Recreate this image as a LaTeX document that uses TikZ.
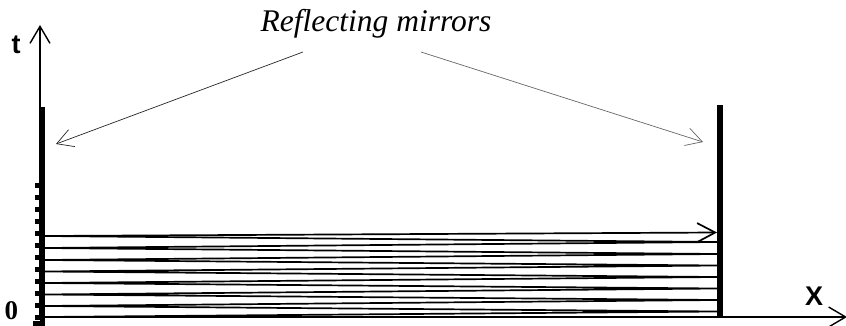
\documentclass[tikz,border=0pt]{standalone}
\usepackage{fontspec}
\setmainfont{Liberation Serif}
\setsansfont{Liberation Sans}
\usetikzlibrary{arrows.meta}
\begin{document}
\begin{tikzpicture}[x=1pt,y=-1pt,
  mirror/.style={fill=black,draw=none,inner sep=0pt,outer sep=0pt},
  tickbox/.style={fill=black,draw=none,inner sep=0pt,outer sep=0pt,minimum width=6pt,minimum height=5pt},
  axis/.style={line width=1.4pt,-{Straight Barb[length=17pt,width=20pt]}},
  ray/.style={line width=1.7pt,line join=miter},
  pointer/.style={line width=0.7pt,-{Straight Barb[length=16pt,width=18pt]}},
  axlabel/.style={font=\sffamily\bfseries\fontsize{27}{27}\selectfont,inner sep=0pt},
]
\useasboundingbox (0,0) rectangle (846,326);
% axes
\coordinate (O) at (40,317);
\coordinate (tend) at (40,25);
\coordinate (xend) at (847,317);
\draw[axis] (O) -- (tend);
\draw[axis] (O) -- (xend);
% mirrors
\node[mirror,minimum width=5.5pt,minimum height=219pt] (lm) at (42.25,216.5) {};
\node[mirror,minimum width=6pt,minimum height=213pt] (rm) at (720,211.5) {};
% ticks on left mirror
\foreach \i in {0,...,11}{
  \node[tickbox] (tk\i) at (37.5,{185+12*\i}) {};
}
\node[tickbox,minimum width=9pt,minimum height=5pt] (tkb) at (37.5,323.5) {};
% zigzag light ray
\coordinate (L0) at (45,317);
\coordinate (R0) at (717,311.5);
\coordinate (L1) at (45,306);
\coordinate (R1) at (717,300);
\coordinate (L2) at (45,294.5);
\coordinate (R2) at (717,288.5);
\coordinate (L3) at (45,283);
\coordinate (R3) at (717,277);
\coordinate (L4) at (45,271.5);
\coordinate (R4) at (717,265.5);
\coordinate (L5) at (45,260);
\coordinate (R5) at (717,254);
\coordinate (L6) at (45,248);
\coordinate (R6) at (717,242);
\coordinate (L7) at (45,236);
\coordinate (R7) at (717,232.5);
\draw[ray] (L0) -- (R0) -- (L1) -- (R1) -- (L2) -- (R2) -- (L3) -- (R3) -- (L4) -- (R4) -- (L5) -- (R5) -- (L6) -- (R6) -- (L7);
\draw[ray,-{Straight Barb[length=18pt,width=19pt]}] (L7) -- (R7);
% labels
\node[axlabel] (tl) at (16,45) {t};
\node[axlabel] (xl) at (814,296) {X};
\node[font=\bfseries\fontsize{27}{27}\selectfont,inner sep=0pt] (zl) at (11.5,311) {0};
\node[font=\itshape\fontsize{31.5}{31.5}\selectfont,inner sep=0pt] (title) at (376,24) {Reflecting mirrors};
% pointers
\coordinate (pl) at (303,52);
\coordinate (pltip) at (56,144);
\coordinate (pr) at (421,52);
\coordinate (prtip) at (703,142);
\draw[pointer,black!85] (pl) -- (pltip);
\draw[pointer,black!60] (pr) -- (prtip);
\end{tikzpicture}
\end{document}
